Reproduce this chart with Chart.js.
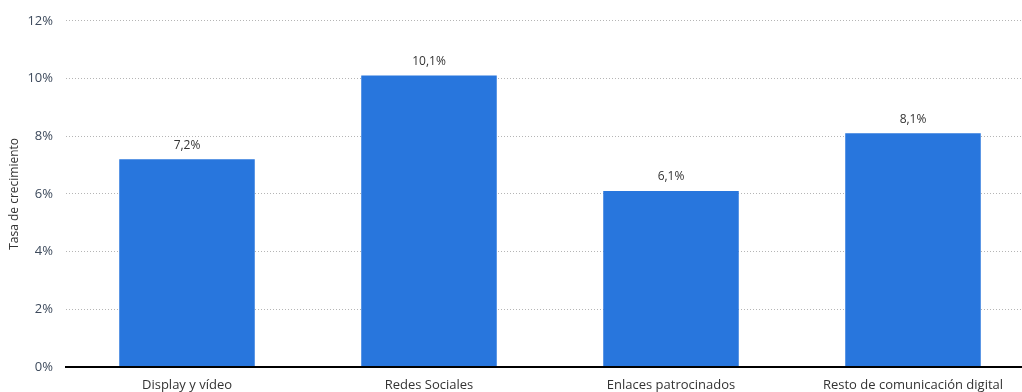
<!DOCTYPE html>
<html lang="es">
<head>
    <meta charset="UTF-8">
    <title>Tasa de crecimiento</title>
    <script src="https://cdn.jsdelivr.net/npm/chart.js"></script>
    <style>
        html, body {
            margin: 0;
            padding: 0;
            background: #ffffff;
            overflow: hidden;
        }
        .contenedor {
            position: relative;
            width: 1034px;
            height: 392px;
        }
    </style>
</head>
<body>
    <div class="contenedor">
        <canvas id="grafica"></canvas>
    </div>

    <script>
        const categorias = ["Display y vídeo", "Redes Sociales", "Enlaces patrocinados", "Resto de comunicación digital"];
        const tasas = [7.2, 10.1, 6.1, 8.1];
        const etiquetasEje = ["0%", "2%", "4%", "6%", "8%", "10%", "12%"];

        const fuente = "'Open Sans', 'Noto Sans', sans-serif";

        // Escribe el valor de cada barra encima de ella
        const valoresSobreBarras = {
            id: 'valoresSobreBarras',
            afterDatasetsDraw(chart) {
                const ctx = chart.ctx;
                const meta = chart.getDatasetMeta(0);
                ctx.save();
                ctx.font = "12px " + fuente;
                ctx.fillStyle = '#333333';
                ctx.textAlign = 'center';
                ctx.textBaseline = 'bottom';
                meta.data.forEach((barra, i) => {
                    const texto = tasas[i].toFixed(1).replace('.', ',') + '%';
                    ctx.fillText(texto, barra.x, barra.y - 8);
                });
                ctx.restore();
            }
        };

        new Chart(document.getElementById('grafica'), {
            type: 'bar',
            data: {
                labels: categorias,
                datasets: [{
                    data: tasas,
                    backgroundColor: '#2876dd',
                    categoryPercentage: 0.56,
                    barPercentage: 1
                }]
            },
            options: {
                responsive: true,
                maintainAspectRatio: false,
                animation: false,
                layout: { padding: { top: 18, right: 0, bottom: 0, left: 0 } },
                plugins: {
                    legend: { display: false },
                    tooltip: { enabled: false }
                },
                scales: {
                    x: {
                        grid: { display: false, drawTicks: false },
                        border: { display: true, color: '#000000', width: 2, z: 1 },
                        ticks: {
                            padding: 10,
                            color: '#333333',
                            font: { family: fuente, size: 13 },
                            maxRotation: 0
                        },
                        afterFit(scale) { scale.height = 25; }
                    },
                    y: {
                        min: 0,
                        max: 12,
                        ticks: {
                            stepSize: 2,
                            padding: 13,
                            color: '#3d4a5c',
                            font: { family: fuente, size: 13 },
                            callback: (v) => etiquetasEje[v / 2]
                        },
                        grid: {
                            color: '#b5b5b5',
                            drawTicks: false
                        },
                        border: { display: false, dash: [1, 2] },
                        title: {
                            display: true,
                            text: 'Tasa de crecimiento',
                            color: '#333333',
                            font: { family: fuente, size: 12 },
                            padding: { top: 7, bottom: 0 }
                        },
                        afterFit(scale) { scale.width = 66; }
                    }
                }
            },
            plugins: [valoresSobreBarras]
        });
    </script>
</body>
</html>
